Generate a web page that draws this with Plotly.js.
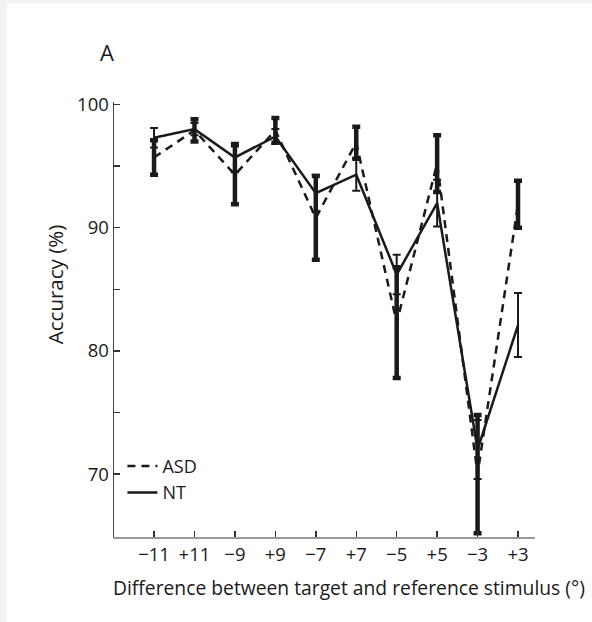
<!DOCTYPE html>
<html>
<head>
<meta charset="utf-8">
<script src="https://cdn.plot.ly/plotly-3.0.1.min.js"></script>
<style>
  html, body { margin: 0; padding: 0; background: #f2f2f2; width: 592px; height: 622px; overflow: hidden; }
  #chart { position: absolute; left: 7px; top: 3px; width: 585px; height: 619px; background: #fff; }
</style>
</head>
<body>
<div id="chart"></div>
<script>
const categories = ['−11', '+11', '−9', '+9', '−7', '+7', '−5', '+5', '−3', '+3'];
const asdValues = [95.7, 97.9, 94.3, 97.9, 90.8, 96.9, 82.3, 95.2, 70.0, 91.9];
const asdErrors = [1.4, 0.9, 2.4, 1.0, 3.4, 1.3, 4.5, 2.3, 4.8, 1.9];
const ntValues = [97.3, 98.0, 95.7, 97.4, 92.8, 94.3, 86.2, 92.0, 72.0, 82.1];
const ntErrors = [0.8, 0.5, 1.2, 0.6, 1.5, 1.3, 1.6, 1.9, 2.4, 2.6];
const yTickVals = [70, 75, 80, 85, 90, 95, 100];
const yTickText = ['70', '', '80', '', '90', '', '100'];
const xTitle = 'Difference between target and reference stimulus (°)';
const yTitle = 'Accuracy (%)';
const panelLabel = 'A';

const fontFamily = '"Open Sans", "Noto Sans", sans-serif';
const ink = '#1a1a1a';

const traces = [
  {
    name: 'ASD', x: categories, y: asdValues, type: 'scatter', mode: 'lines',
    line: { color: ink, width: 2.5, dash: '8px,6px' },
    error_y: { type: 'data', array: asdErrors, visible: true, color: ink, thickness: 4.5, width: 4 }
  },
  {
    name: 'NT', x: categories, y: ntValues, type: 'scatter', mode: 'lines',
    line: { color: ink, width: 2.5 },
    error_y: { type: 'data', array: ntErrors, visible: true, color: ink, thickness: 2, width: 4 }
  }
];

const layout = {
  width: 585, height: 619,
  margin: { l: 107, r: 57, t: 99, b: 85 },
  paper_bgcolor: '#ffffff', plot_bgcolor: '#ffffff',
  font: { family: fontFamily, color: ink, size: 18 },
  showlegend: true,
  legend: {
    x: 0.02, y: 0.205, xanchor: 'left', yanchor: 'top',
    bgcolor: 'rgba(0,0,0,0)', font: { size: 18, family: fontFamily, color: ink },
    itemwidth: 30, tracegroupgap: 0
  },
  xaxis: {
    type: 'category', range: [-0.99, 9.42],
    showgrid: false, zeroline: false,
    showline: true, linecolor: '#999', linewidth: 2,
    ticks: 'inside', ticklen: 6, tickcolor: '#333', tickwidth: 1.5,
    tickfont: { size: 18.5, family: fontFamily, color: ink }
  },
  yaxis: {
    range: [64.9, 100.2],
    tickmode: 'array', tickvals: yTickVals, ticktext: yTickText,
    showgrid: false, zeroline: false,
    showline: true, linecolor: '#444', linewidth: 1.5,
    ticks: 'inside', ticklen: 6, tickcolor: '#333', tickwidth: 1.5,
    tickfont: { size: 18.5, family: fontFamily, color: ink }
  },
  annotations: [
    { text: panelLabel, xref: 'paper', yref: 'paper', x: -0.017, y: 1.115, xanchor: 'center', yanchor: 'middle',
      showarrow: false, font: { size: 22, family: fontFamily, color: ink } },
    { text: xTitle, xref: 'paper', yref: 'paper', x: 0.558, y: -0.115, xanchor: 'center', yanchor: 'middle',
      showarrow: false, font: { size: 19.3, family: fontFamily, color: ink } },
    { text: yTitle, xref: 'paper', yref: 'paper', x: -0.14, y: 0.579, xanchor: 'center', yanchor: 'middle',
      textangle: -90, showarrow: false, font: { size: 20.5, family: fontFamily, color: ink } }
  ]
};

Plotly.newPlot('chart', traces, layout, { displayModeBar: false, staticPlot: true });
</script>
</body>
</html>
